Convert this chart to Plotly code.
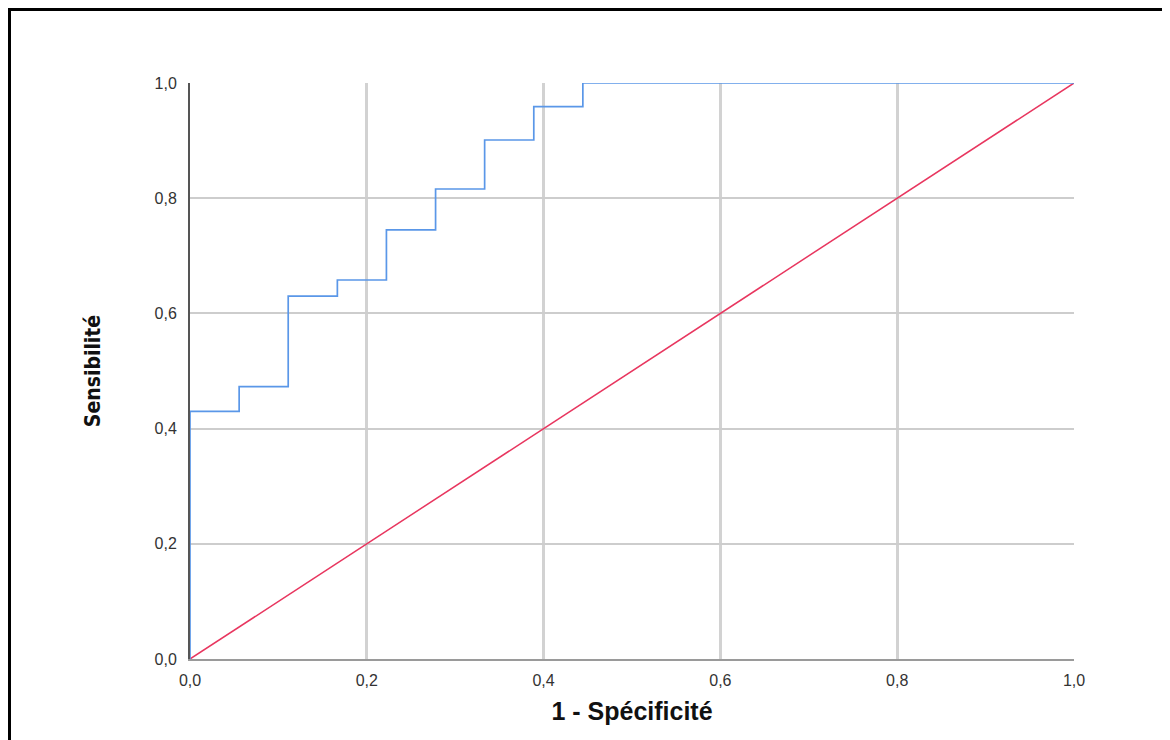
import plotly.graph_objects as go

# ROC curve data (1 - specificity, sensitivity)
fpr = [0.0, 0.0, 0.0556, 0.0556, 0.1111, 0.1111, 0.1667, 0.1667, 0.2222, 0.2222,
       0.2778, 0.2778, 0.3333, 0.3333, 0.3889, 0.3889, 0.4444, 0.4444, 1.0]
tpr = [0.0, 0.430, 0.430, 0.473, 0.473, 0.630, 0.630, 0.658, 0.658, 0.745,
       0.745, 0.816, 0.816, 0.901, 0.901, 0.959, 0.959, 1.0, 1.0]
ref_x = [0.0, 1.0]
ref_y = [0.0, 1.0]
tick_vals = [0.0, 0.2, 0.4, 0.6, 0.8, 1.0]

OFF = 8  # page body margin
W, H = 1170 - OFF, 740 - OFF
L, R, T, B = 190 - OFF, 1074 - OFF, 83 - OFF, 659 - OFF

def px(x):
    return (x - OFF - L) / (R - L)

def py(y):
    return (B - (y - OFF)) / (B - T)

fig = go.Figure()
fig.add_trace(go.Scatter(x=ref_x, y=ref_y, mode="lines",
                         line=dict(color="#e8365f", width=1.5),
                         cliponaxis=False, showlegend=False))
fig.add_trace(go.Scatter(x=fpr, y=tpr, mode="lines",
                         line=dict(color="#5a97e8", width=1.7),
                         cliponaxis=False, showlegend=False))

axis_common = dict(range=[0, 1], tickvals=tick_vals, tickformat=".1f",
                   showgrid=True, zeroline=False, ticks="",
                   tickfont=dict(family="Liberation Sans", size=16, color="#333333"))

fig.update_xaxes(**axis_common, gridcolor="#d2d2d2", gridwidth=3, showline=True,
                 linecolor="#9a9a9a", linewidth=2, ticklabelstandoff=6,
                 title=dict(text="<b>1 - Spécificité</b>",
                            font=dict(family="Liberation Sans", size=25, color="#111111"),
                            standoff=14))
fig.update_yaxes(**axis_common, gridcolor="#cdcdcd", gridwidth=1.8, showline=True,
                 linecolor="#555555", linewidth=2, ticklabelstandoff=8,
                 title=dict(text="<b>Sensibilité</b>",
                            font=dict(family="DejaVu Sans Condensed, Liberation Sans", size=21,
                                      color="#111111"),
                            standoff=48))

shapes = [
    dict(type="line", xref="paper", yref="paper", x0=px(9), x1=px(1168), y0=py(9.5), y1=py(9.5),
         line=dict(color="#000000", width=3)),
    dict(type="line", xref="paper", yref="paper", x0=px(9.5), x1=px(9.5), y0=py(8), y1=py(745),
         line=dict(color="#000000", width=3)),
    dict(type="line", xref="paper", yref="paper", x0=px(1167), x1=px(1167), y0=py(11), y1=py(745),
         line=dict(color="#e0e0e0", width=1.5)),
]

fig.update_layout(width=W, height=H, margin=dict(l=L, r=W - R, t=T, b=H - B),
                  paper_bgcolor="white", plot_bgcolor="white", separators=", ",
                  shapes=shapes, showlegend=False)

fig.write_html("out.html")
